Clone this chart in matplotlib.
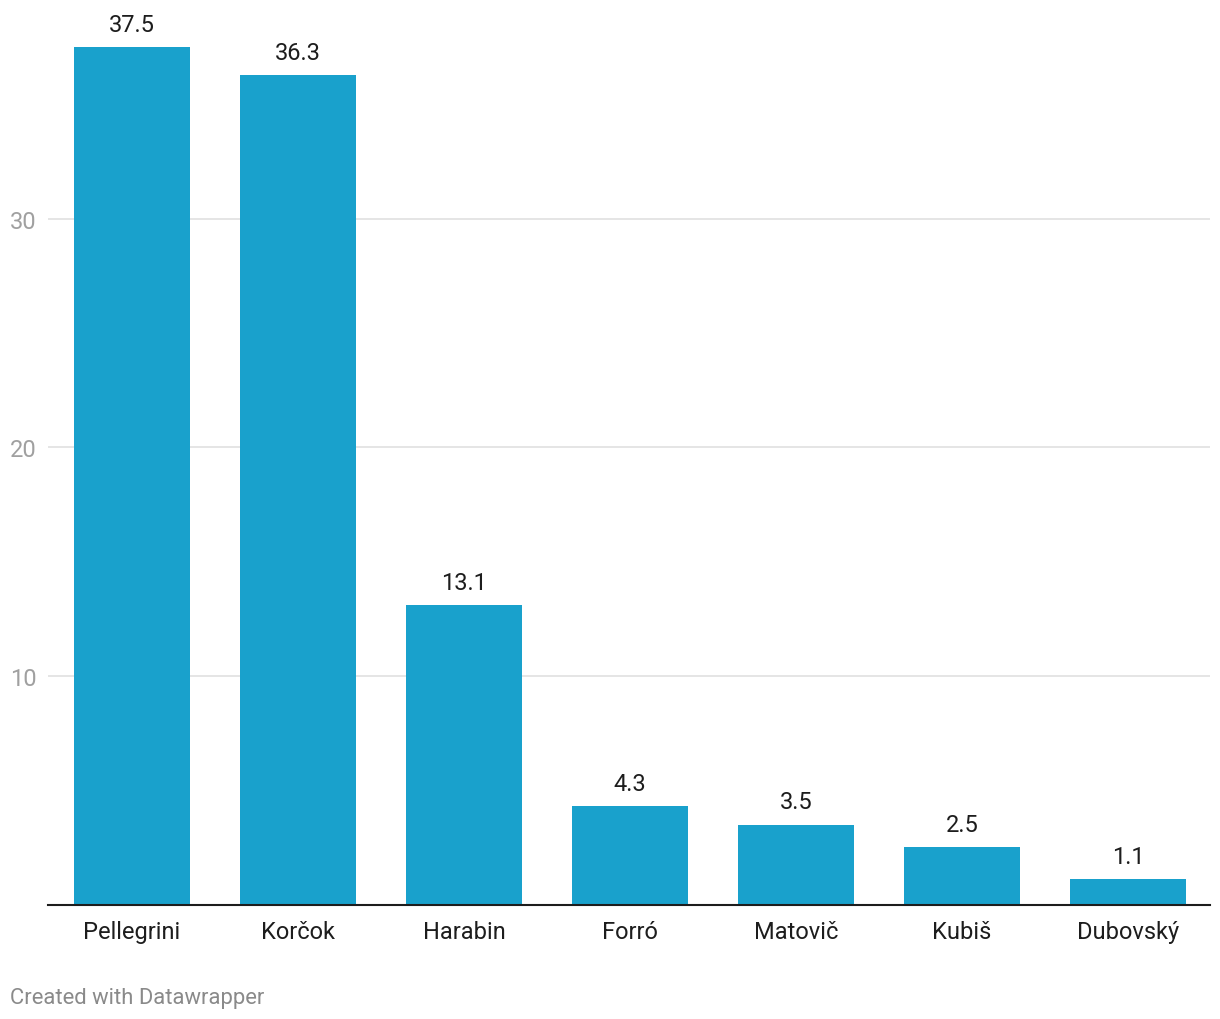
import matplotlib.pyplot as plt

plt.rcParams['font.family'] = ['Roboto', 'DejaVu Sans']

names = ["Pellegrini", "Korčok", "Harabin", "Forró", "Matovič", "Kubiš", "Dubovský"]
values = [37.5, 36.3, 13.1, 4.3, 3.5, 2.5, 1.1]
yticks = [10, 20, 30]

bar_color = "#19a1cc"

fig = plt.figure(figsize=(12.2, 10.2), dpi=100)
ax = fig.add_axes([48 / 1220, 114.5 / 1020, 1162 / 1220, 880 / 1020])

x = range(len(names))
ax.bar(x, values, width=0.695, color=bar_color, zorder=2)

# value labels above bars
for i, v in zip(x, values):
    ax.annotate(f"{v}", (i, v), xytext=(0, 8), textcoords="offset points",
                ha="center", va="bottom", fontsize=17, color="#1d1d1d")

ax.set_xlim(-0.506, len(names) - 0.506)
ax.set_ylim(0, 38.5)

ax.set_yticks(yticks)
ax.set_yticklabels([str(t) for t in yticks], fontsize=17, color="#a0a0a0")
ax.yaxis.grid(True, color="#e0e0e0", linewidth=1.2, zorder=0)
ax.tick_params(axis="y", length=0, pad=8)

ax.set_xticks(list(x))
ax.set_xticklabels(names, fontsize=17, color="#1d1d1d")
ax.tick_params(axis="x", length=0, pad=11)

for side in ["top", "right", "left"]:
    ax.spines[side].set_visible(False)
ax.spines["bottom"].set_color("#1d1d1d")
ax.spines["bottom"].set_linewidth(1.5)
ax.spines["bottom"].set_zorder(3)

fig.text(10 / 1220, 1 - 999 / 1020, "Created with Datawrapper",
         fontsize=15.8, color="#8a8a8a", ha="left", va="center")

fig.savefig("out.png", dpi=100)
